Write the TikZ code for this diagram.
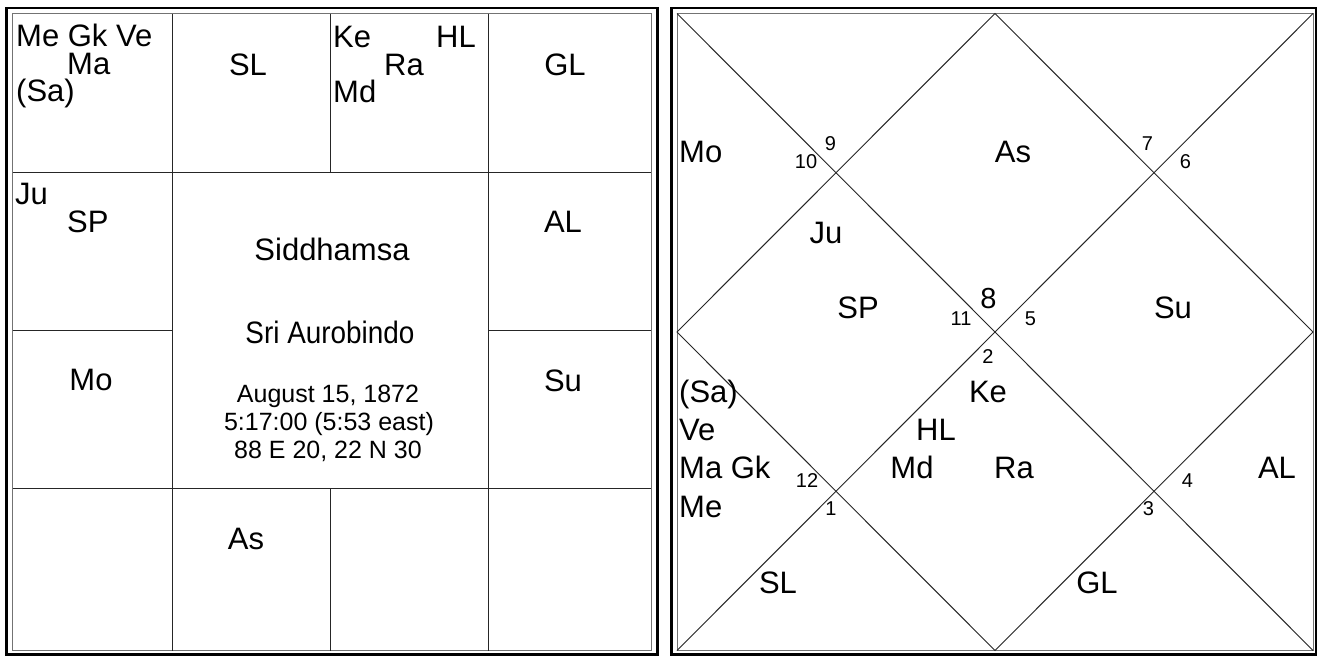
\documentclass[tikz,border=0pt]{standalone}
\usepackage{fontspec}
\setmainfont{Liberation Sans}
\begin{document}
\begin{tikzpicture}[x=1pt,y=-1pt,
  gridline/.style={line width=1pt, draw=black!85},
  outerb/.style={line width=2.5pt, draw=black},
  innerb/.style={line width=1pt, draw=black!55},
  lbl/.style={inner sep=0pt, font=\fontsize{31}{36}\selectfont},
  info/.style={inner sep=0pt, font=\fontsize{25}{30}\selectfont},
  num/.style={inner sep=0pt, font=\fontsize{20}{24}\selectfont},
  bignum/.style={inner sep=0pt, font=\fontsize{29}{34}\selectfont},
  lw/.style={anchor=base west},
  ct/.style={anchor=base}]
\useasboundingbox (0,0) rectangle (1317,656);
\fill[white] (0,0) rectangle (1317,656);
% ---------------- left chart (South Indian) ----------------
\draw[outerb] (6.5,8) rectangle (657.5,654.5);
\draw[innerb] (12.5,13.5) rectangle (651,650.5);
\draw[gridline] (172,13.5) -- (172,650.5);
\draw[gridline] (488,13.5) -- (488,650.5);
\draw[gridline] (330,13.5) -- (330,172);
\draw[gridline] (330,488) -- (330,650.5);
\draw[gridline] (12.5,172) -- (651,172);
\draw[gridline] (12.5,488) -- (651,488);
\draw[gridline] (12.5,330) -- (172,330);
\draw[gridline] (488,330) -- (651,330);
\node[lbl,lw] (lMeGkVe) at (16,46) {Me Gk Ve};
\node[lbl,lw] (lMa) at (67,74) {Ma};
\node[lbl,lw] (lSa) at (16,101) {(Sa)};
\node[lbl,ct] (lSL) at (248,75) {SL};
\node[lbl,lw] (lKe) at (333,47) {Ke};
\node[lbl,lw] (lHL) at (436,47) {HL};
\node[lbl,lw] (lRa) at (384,75) {Ra};
\node[lbl,lw] (lMd) at (333,102) {Md};
\node[lbl,ct] (lGL) at (565,75) {GL};
\node[lbl,lw] (lJu) at (15,204) {Ju};
\node[lbl,lw] (lSP) at (67,232) {SP};
\node[lbl,ct] (lAL) at (563,232) {AL};
\node[lbl,ct] (lTitle) at (332,260) {Siddhamsa};
\node[lbl,ct] (lName) at (330,343) {\scalebox{0.9}[1]{Sri Aurobindo}};
\node[lbl,ct] (lMo) at (91,390) {Mo};
\node[lbl,ct] (lSu) at (563,391) {Su};
\node[info,ct] (lDate) at (328,402) {August 15, 1872};
\node[info,ct] (lTime) at (329,430) {5:17:00 (5:53 east)};
\node[info,ct] (lPlace) at (328,458) {88 E 20, 22 N 30};
\node[lbl,ct] (lAs) at (246,549) {As};
% ---------------- right chart (North Indian) ----------------
\draw[outerb] (671.5,8) rectangle (1316.5,654.5);
\draw[innerb] (677,13.5) rectangle (1313,650.5);
\coordinate (TL) at (677,13.5);
\coordinate (TR) at (1313,13.5);
\coordinate (BL) at (677,650.5);
\coordinate (BR) at (1313,650.5);
\coordinate (MT) at (995,13.5);
\coordinate (MR) at (1313,332);
\coordinate (MB) at (995,650.5);
\coordinate (ML) at (677,332);
\draw[gridline] (TL) -- (BR);
\draw[gridline] (TR) -- (BL);
\draw[gridline] (MT) -- (MR) -- (MB) -- (ML) -- cycle;
\node[lbl,lw] (rMo) at (679,162) {Mo};
\node[num,ct] (r10) at (806,168) {10};
\node[num,ct] (r9) at (830.5,150) {9};
\node[lbl,ct] (rAs) at (1013,162) {As};
\node[num,ct] (r7) at (1147.5,150) {7};
\node[num,ct] (r6) at (1185.5,168) {6};
\node[lbl,ct] (rJu) at (826,243) {Ju};
\node[lbl,ct] (rSP) at (858,318) {SP};
\node[num,ct] (r11) at (961,325) {11};
\node[bignum,ct] (r8) at (988.5,308) {8};
\node[num,ct] (r5) at (1030.5,325) {5};
\node[lbl,ct] (rSu) at (1173,318) {Su};
\node[num,ct] (r2) at (988,363) {2};
\node[lbl,lw] (rSa) at (679,402) {(Sa)};
\node[lbl,ct] (rKe) at (988,402) {Ke};
\node[lbl,lw] (rVe) at (679,440) {Ve};
\node[lbl,ct] (rHL) at (936,440) {HL};
\node[lbl,lw] (rMaGk) at (679,478) {Ma Gk};
\node[num,ct] (r12) at (807,487) {12};
\node[lbl,ct] (rMd) at (912,478) {Md};
\node[lbl,ct] (rRa) at (1014,478) {Ra};
\node[num,ct] (r4) at (1187.5,487) {4};
\node[lbl,ct] (rAL) at (1277,478) {AL};
\node[lbl,lw] (rMe) at (679,517) {Me};
\node[num,ct] (r1) at (831,515) {1};
\node[num,ct] (r3) at (1148.5,515) {3};
\node[lbl,ct] (rSL) at (778,593) {SL};
\node[lbl,ct] (rGL) at (1097,593) {GL};
\end{tikzpicture}
\end{document}
